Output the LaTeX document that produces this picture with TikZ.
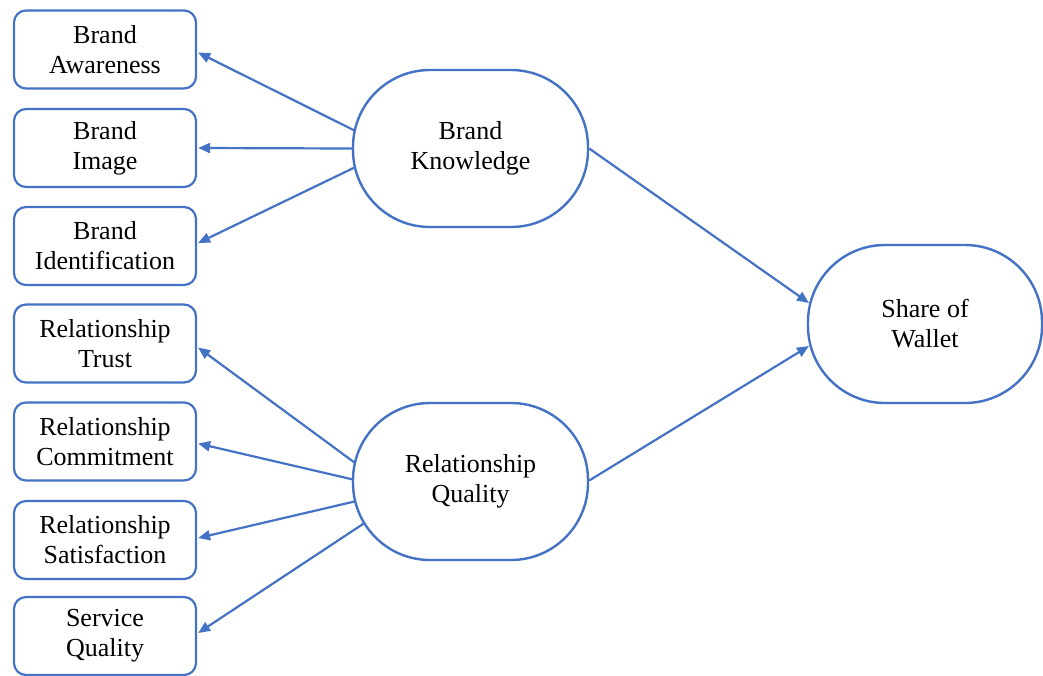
\documentclass[tikz,border=0pt]{standalone}
\usepackage{fontspec}
\setmainfont{Liberation Serif}
\usetikzlibrary{arrows.meta,calc}
\definecolor{lineblue}{RGB}{68,114,196}
\begin{document}
\begin{tikzpicture}[x=1pt,y=-1pt,
  every node/.style={font=\fontsize{26}{30}\selectfont, align=center, text=black},
  itembox/.style={draw=lineblue, line width=2.2pt, rounded corners=12pt, minimum width=182pt, minimum height=78pt, inner sep=0pt},
  construct/.style={draw=lineblue, line width=2.4pt, rounded corners=77pt, minimum width=235pt, minimum height=157pt, inner sep=0pt},
  arr/.style={draw=lineblue, line width=2.2pt, -{Triangle[length=12pt,width=10pt]}}]
\useasboundingbox (0,0) rectangle (1043,675);
\node[itembox] (ba) at (105,49.5) {Brand\\Awareness};
\node[itembox] (bi) at (105,148) {Brand\\Image};
\node[itembox] (bid) at (105,246) {Brand\\Identification};
\node[itembox] (rt) at (105,343.5) {Relationship\\Trust};
\node[itembox] (rc) at (105,441.5) {Relationship\\Commitment};
\node[itembox] (rs) at (105,540) {Relationship\\Satisfaction};
\node[itembox] (sq) at (105,636) {Service\\Quality};
\node[construct] (bk) at (470.5,148.5) {Brand\\Knowledge};
\node[construct] (rq) at (470.5,481.5) {Relationship\\Quality};
\node[construct, minimum width=234pt, minimum height=158pt] (sw) at (925,324) {Share of\\Wallet};
% Brand Knowledge -> indicators
\draw[arr] ($(bk.center)+(-116,-18)$) -- ($(ba.east)+(1,3)$);
\draw[arr] (bk.west) -- ($(bi.east)+(1,0)$);
\draw[arr] ($(bk.center)+(-116,19)$) -- ($(bid.east)+(1,-3)$);
% Relationship Quality -> indicators
\draw[arr] ($(rq.center)+(-116,-19)$) -- ($(rt.east)+(1,4)$);
\draw[arr] ($(rq.center)+(-117.5,-2)$) -- ($(rc.east)+(1,2)$);
\draw[arr] ($(rq.center)+(-116,20)$) -- ($(rs.east)+(1,-2)$);
\draw[arr] ($(rq.center)+(-106,41.5)$) -- ($(sq.east)+(1,-3)$);
% constructs -> Share of Wallet
\draw[arr] (bk.east) -- ($(sw.center)+(-116,-21)$);
\draw[arr] ($(rq.east)+(0,-1)$) -- ($(sw.center)+(-116,22)$);
\end{tikzpicture}
\end{document}
